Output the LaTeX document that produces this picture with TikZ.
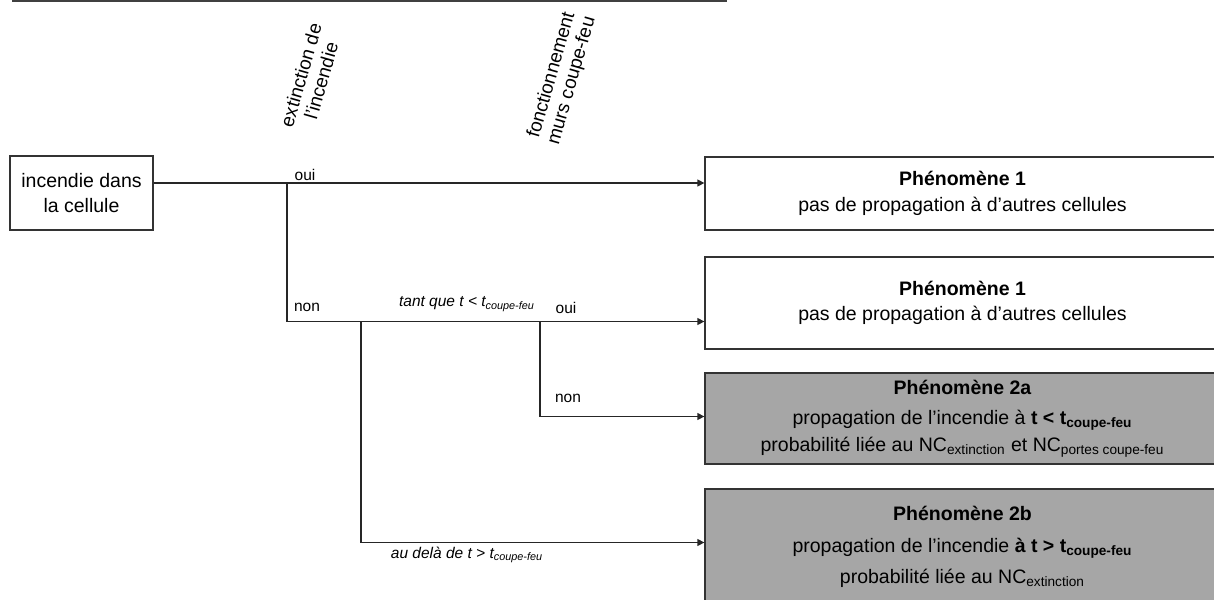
\documentclass[tikz,border=0pt]{standalone}
\usepackage{fontspec}
\setmainfont{Liberation Sans}
\usetikzlibrary{arrows.meta, positioning}

\begin{document}
\begin{tikzpicture}[x=0.5pt, y=-0.5pt,
    boite/.style={rectangle, draw=black!80, line width=0.65pt, align=center,
                  inner sep=0pt, font=\fontsize{9.75}{12.75}\selectfont},
    phenom/.style={boite, minimum width=257.5pt},
    grise/.style={fill=black!35},
    branche/.style={line width=0.65pt, black!85},
    fleche/.style={branche, -{Triangle[length=3.5pt, width=3.5pt]}},
    choix/.style={font=\fontsize{7.75}{9}\selectfont},
    condition/.style={font=\fontsize{7.75}{9}\selectfont\itshape},
    critere/.style={rotate=74, align=center, font=\fontsize{9.5}{10.5}\selectfont}]
    \useasboundingbox (0,0) rectangle (1214,599);
    \clip (0,0) rectangle (1214,599);
    % --- Bord du tableau ---
    \draw[line width=0.8pt, black!75] (12,1) -- (727,1);
    % --- Criteres ---
    \node[critere] (extinction) at (311,78) {extinction de\\l'incendie};
    \node[critere] (murs) at (562,78) {fonctionnement\\murs coupe-feu};
    % --- Evenement initiateur ---
    \node[boite, minimum width=71.5pt, minimum height=37pt] (incendie) at (81.5,193)
      {incendie dans\\la cellule};
    % --- Phenomenes ---
    \node[phenom, minimum height=36.5pt] (ph1) at (962.5,193.5)
      {\textbf{Phénomène 1}\\pas de propagation à d'autres cellules};
    \node[phenom, minimum height=46pt] (ph1b) at (962.5,303)
      {\textbf{Phénomène 1}\\pas de propagation à d'autres cellules};
    \node[phenom, grise, minimum height=45.5pt] (ph2a) at (962.5,418.5)
      {\textbf{Phénomène 2a}\\[2.25pt]
       propagation de l'incendie à \textbf{t < t\textsubscript{coupe-feu}}\\[0.75pt]
       probabilité liée au NC\textsubscript{extinction} et NC\textsubscript{portes coupe-feu}};
    \node[phenom, grise, minimum height=58pt] (ph2b) at (962.5,547)
      {\textbf{Phénomène 2b}\\[3pt]
       propagation de l'incendie \textbf{à t > t\textsubscript{coupe-feu}}\\[3pt]
       probabilité liée au NC\textsubscript{extinction}};
    % --- Points de branchement ---
    \coordinate (n1) at (287,183);
    \coordinate (n2) at (287,321.5);
    \coordinate (n3) at (361,321.5);
    \coordinate (n4) at (540,321.5);
    \coordinate (n5) at (540,416.5);
    \coordinate (n6) at (361,542.5);
    % Branches
    \draw[fleche] (incendie.east |- n1) -- (ph1.west |- n1);
    \draw[fleche] (n1) -- (n2) -- (ph1b.west |- n2);
    \draw[fleche] (n4) -- (n5) -- (ph2a.west |- n5);
    \draw[fleche] (n3) -- (n6) -- (ph2b.west |- n6);
    % --- Etiquettes ---
    \node[choix] (oui1) at (305,175) {oui};
    \node[choix] (non1) at (307,307) {non};
    \node[condition] (tantque) at (467,304) {tant que t < t\textsubscript{coupe-feu}};
    \node[choix] (oui2) at (566,308) {oui};
    \node[choix] (non2) at (568,398) {non};
    \node[condition] (audela) at (467,555) {au delà de t > t\textsubscript{coupe-feu}};
\end{tikzpicture}
\end{document}
